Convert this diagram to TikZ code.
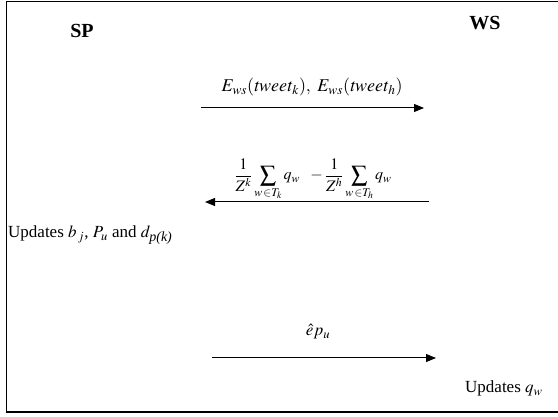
\documentclass[tikz,border=0pt]{standalone}
\usepackage{mathptmx}
\usepackage{fontspec}
\setmainfont{Liberation Serif}
\usetikzlibrary{arrows.meta}
\tikzset{
  msg/.style={line width=1pt,-{Triangle[length=10pt,width=8pt]}},
  actor/.style={font=\fontsize{20}{24}\selectfont\bfseries},
  lbl/.style={font=\fontsize{17}{20}\selectfont, inner sep=0pt},
}
\begin{document}
\begin{tikzpicture}[x=1pt,y=-1pt]
\useasboundingbox (0,0) rectangle (558,417);
\draw[line width=1.2pt] (562,1.5) -- (6.5,1.5) -- (6.5,412) -- (562,412);
\node[actor] (sp) at (82,31) {SP};
\node[actor] (ws) at (485,23) {WS};
% message 1
\coordinate (a1s) at (201,108);
\coordinate (a1e) at (424,108);
\draw[msg] (a1s) -- (a1e);
\node[lbl, anchor=base] (l1) at (312,92) {\fontsize{18}{21}\selectfont$E_{ws}(\mathit{tweet}_k),\ E_{ws}(\mathit{tweet}_h)$};
% message 2
\coordinate (a2s) at (429,202);
\coordinate (a2e) at (205,202);
\draw[msg] (a2s) -- (a2e);
\node[lbl, anchor=base] (l2) at (313,180) {\fontsize{16}{19}\selectfont$\displaystyle \frac{1}{Z^k}\sum_{w\,\in T_k} q_w\ \ -\frac{1}{Z^h}\sum_{w\,\in T_h} q_w$};
% local update at SP
\node[lbl, anchor=base west] (u1) at (8,238) {Updates $b_{\,j}$, $P_u$ and $d_{\mbox{\fontsize{14}{16}\selectfont\itshape p(k)}}$};
% message 3
\coordinate (a3s) at (212,358);
\coordinate (a3e) at (436,358);
\draw[msg] (a3s) -- (a3e);
\node[lbl, anchor=base] (l3) at (318,336) {$\hat{e}p_u$};
% local update at WS
\node[lbl, anchor=base west] (u2) at (465,393) {Updates $q_w$};
\end{tikzpicture}
\end{document}
